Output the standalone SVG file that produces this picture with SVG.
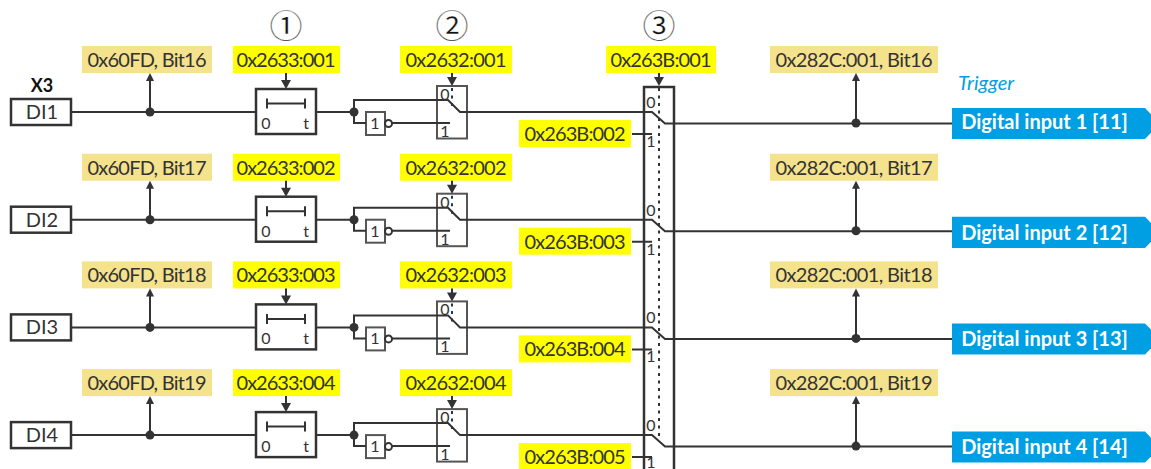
<svg xmlns="http://www.w3.org/2000/svg" width="1151" height="469" viewBox="0 0 1151 469">
<style>
text{font-family:Lato,"Noto Sans CJK JP","DejaVu Sans",sans-serif;fill:#333;font-size:20px;text-anchor:middle}
.w{fill:none;stroke:#333;stroke-width:2}
.b{fill:#fff;stroke:#333;stroke-width:2.500}
.t{fill:none;stroke:#333;stroke-width:2.500}
.g{fill:#fff;stroke:#555;stroke-width:2}
.d{fill:none;stroke:#333;stroke-width:2;stroke-dasharray:3 4.500}
.y{fill:#ffff00}
.k{fill:#f5e28c}
.o{fill:#009fe3}
.s{font-size:16px}
.h{fill:#333}
.f{fill:#fff;font-weight:700;font-size:20px}
.c{font-family:"Noto Sans CJK JP","DejaVu Sans",sans-serif;font-size:33px;fill:#111;stroke:#fff;stroke-width:.35}
</style>
<defs>
<path id="ah" class="h" d="M-5 -9H5L0 0Z"/>
<path id="au" class="h" d="M-4 8H4L0 0Z"/>
<g id="wires">
<path class="w" d="M72 112H256M150 112V78M856 123V78M286 73V82M316 112H354V100H448L460 112H652L665 123.500H952M354 112V123H366M392 123H450M452 73V79M632 134H652"/>
<circle cx="150" cy="112" r="4.500" class="h"/><circle cx="354" cy="112" r="4.500" class="h"/><circle cx="856" cy="123" r="4.500" class="h"/>
<use href="#au" x="150" y="73"/><use href="#au" x="856" y="73"/>
<use href="#ah" x="286" y="89"/><use href="#ah" x="452" y="86"/>
</g>
<g id="timer"><rect class="b" x="256" y="89" width="60" height="45"/><path class="w" d="M267 103.500H305M267 98.500V108.500M305 98.500V108.500"/><text class="s" x="266" y="129">0</text><text class="s" x="306" y="129">t</text></g>
<g id="switch"><rect class="g" x="437" y="86" width="30" height="52.500"/><path class="d" d="M452 88V108"/><text class="s" x="445" y="100">0</text><text class="s" x="445" y="137">1</text></g>
<g id="invert"><rect class="g" x="366" y="112" width="19" height="23"/><circle cx="388.500" cy="123.500" r="3.500" fill="#fff" stroke="#333" stroke-width="2"/><text class="s" x="375" y="129">1</text></g>
</defs>

<g id="marks">
<text class="c" x="286" y="38">①</text>
<text class="c" x="452" y="38">②</text>
<text class="c" x="659" y="38">③</text>
<text x="958" y="90" style="font-size:20px;font-style:italic;fill:#009fe3;text-anchor:start">Trigger</text>
<text x="42" y="92" style="font-weight:700;font-size:18px;fill:#111">X3</text>
</g>

<g id="selector3"><path class="t" d="M644 469V87H674V469"/><path class="d" d="M659 88V437"/></g>

<g id="row1">
<g id="di1"><rect class="t" x="11" y="99" width="60" height="26" fill="#fff"/><text x="42" y="119">DI1</text></g>
<g id="status1"><rect class="k" x="82" y="46" width="130" height="27"/><text x="147" y="67" textLength="119">0x60FD, Bit16</text></g>
<g id="par1a"><rect class="y" x="233" y="46" width="107" height="27"/><text x="286" y="67" textLength="99">0x2633:001</text></g>
<use href="#timer"/>
<use href="#invert"/>
<use href="#switch"/>
<g id="par1b"><rect class="y" x="400" y="46" width="112" height="27"/><text x="456" y="67" textLength="101">0x2632:001</text></g>
<g id="par1c"><rect class="y" x="606" y="46" width="110" height="27"/><text x="661" y="67" textLength="101">0x263B:001</text></g>
<g id="sel1"><rect class="y" x="519" y="120" width="112" height="27"/><text x="575" y="141" textLength="101">0x263B:002</text><text class="s" x="651" y="108">0</text><text class="s" x="651" y="147">1</text></g>
<g id="trig1"><rect class="k" x="770" y="46" width="168" height="27"/><text x="854" y="67" textLength="157">0x282C:001, Bit16</text></g>
<g id="out1"><path class="o" d="M952 108H1145L1160 123.500L1145 139H952Z"/><text class="f" x="1044.500" y="128.700">Digital input 1 [11]</text></g>
</g>

<g id="row2" transform="translate(0 107.700)">
<g id="di2"><rect class="t" x="11" y="99" width="60" height="26" fill="#fff"/><text x="42" y="119">DI2</text></g>
<g id="status2"><rect class="k" x="82" y="46" width="130" height="27"/><text x="147" y="67" textLength="119">0x60FD, Bit17</text></g>
<g id="par2a"><rect class="y" x="233" y="46" width="107" height="27"/><text x="286" y="67" textLength="99">0x2633:002</text></g>
<use href="#timer"/>
<use href="#invert"/>
<use href="#switch"/>
<g id="par2b"><rect class="y" x="400" y="46" width="112" height="27"/><text x="456" y="67" textLength="101">0x2632:002</text></g>
<g id="sel2"><rect class="y" x="519" y="120" width="112" height="27"/><text x="575" y="141" textLength="101">0x263B:003</text><text class="s" x="651" y="108">0</text><text class="s" x="651" y="147">1</text></g>
<g id="trig2"><rect class="k" x="770" y="46" width="168" height="27"/><text x="854" y="67" textLength="157">0x282C:001, Bit17</text></g>
<g id="out2"><path class="o" d="M952 109H1145L1160 124.500L1145 140.300H952Z"/><text class="f" x="1044.500" y="132">Digital input 2 [12]</text></g>
</g>

<g id="row3" transform="translate(0 215.400)">
<g id="di3"><rect class="t" x="11" y="99" width="60" height="26" fill="#fff"/><text x="42" y="119">DI3</text></g>
<g id="status3"><rect class="k" x="82" y="46" width="130" height="27"/><text x="147" y="67" textLength="119">0x60FD, Bit18</text></g>
<g id="par3a"><rect class="y" x="233" y="46" width="107" height="27"/><text x="286" y="67" textLength="99">0x2633:003</text></g>
<use href="#timer"/>
<use href="#invert"/>
<use href="#switch"/>
<g id="par3b"><rect class="y" x="400" y="46" width="112" height="27"/><text x="456" y="67" textLength="101">0x2632:003</text></g>
<g id="sel3"><rect class="y" x="519" y="120" width="112" height="27"/><text x="575" y="141" textLength="101">0x263B:004</text><text class="s" x="651" y="108">0</text><text class="s" x="651" y="147">1</text></g>
<g id="trig3"><rect class="k" x="770" y="46" width="168" height="27"/><text x="854" y="67" textLength="157">0x282C:001, Bit18</text></g>
<g id="out3"><path class="o" d="M952 108H1145L1160 123.500L1145 139H952Z"/><text class="f" x="1044.500" y="130.600">Digital input 3 [13]</text></g>
</g>

<g id="row4" transform="translate(0 323.100)">
<g id="di4"><rect class="t" x="11" y="99" width="60" height="26" fill="#fff"/><text x="42" y="119">DI4</text></g>
<g id="status4"><rect class="k" x="82" y="46" width="130" height="27"/><text x="147" y="67" textLength="119">0x60FD, Bit19</text></g>
<g id="par4a"><rect class="y" x="233" y="46" width="107" height="27"/><text x="286" y="67" textLength="99">0x2633:004</text></g>
<use href="#timer"/>
<use href="#invert"/>
<use href="#switch"/>
<g id="par4b"><rect class="y" x="400" y="46" width="112" height="27"/><text x="456" y="67" textLength="101">0x2632:004</text></g>
<g id="sel4"><rect class="y" x="519" y="120" width="112" height="27"/><text x="575" y="141" textLength="101">0x263B:005</text><text class="s" x="651" y="108">0</text><text class="s" x="651" y="145">1</text></g>
<g id="trig4"><rect class="k" x="770" y="46" width="168" height="27"/><text x="854" y="67" textLength="157">0x282C:001, Bit19</text></g>
<g id="out4"><path class="o" d="M952 108.500H1145L1160 124L1145 139.500H952Z"/><text class="f" x="1044.500" y="130.900">Digital input 4 [14]</text></g>
</g>

<g id="connectors">
<use href="#ah" x="659" y="86"/>
<path class="w" d="M659 73V79"/>
<use href="#wires"/>
<use href="#wires" y="107.700"/>
<use href="#wires" y="215.400"/>
<use href="#wires" y="323.100"/>
</g>
</svg>
